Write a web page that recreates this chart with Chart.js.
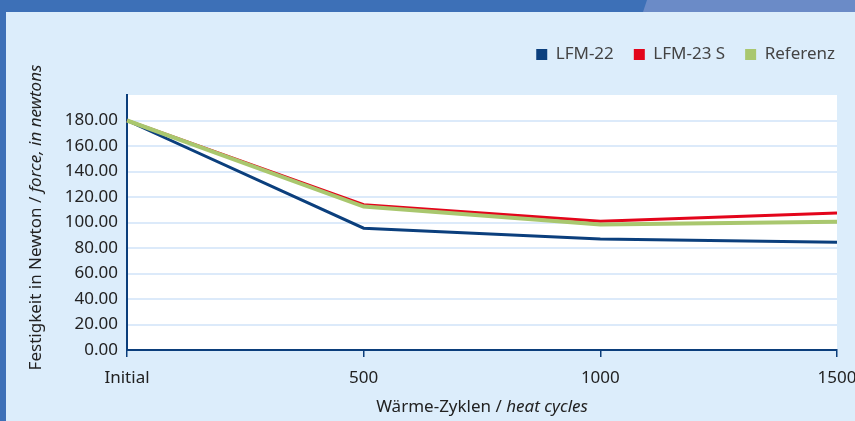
<!DOCTYPE html>
<html>
<head>
<meta charset="utf-8">
<script src="https://cdn.jsdelivr.net/npm/chart.js@4"></script>
<style>
html, body { margin: 0; padding: 0; }
body { width: 855px; height: 421px; background: #dcedfb; position: relative; overflow: hidden; }
#wrap { position: absolute; left: 0; top: 0; width: 855px; height: 421px; }
#topbar { position: absolute; left: 0; top: 0; width: 855px; height: 12px; background: #3d70b7; }
#topbar2 { position: absolute; left: 643px; top: 0; width: 212px; height: 12px; background: #6b8bc7;
  clip-path: polygon(4px 0, 100% 0, 100% 100%, 0 100%); }
#leftbar { position: absolute; left: 0; top: 0; width: 6px; height: 421px; background: #3d70b7; }
</style>
</head>
<body>
<div id="wrap"><canvas id="chart" width="855" height="421"></canvas></div>
<div id="topbar"></div>
<div id="topbar2"></div>
<div id="leftbar"></div>
<script>
// chart values
const cycles = ['Initial', '500', '1000', '1500'];
const lfm22 = [180, 95.5, 87, 84.5];
const lfm23s = [180, 114, 101, 107.5];
const referenz = [180, 112.5, 98.5, 100.5];
const seriesNames = ['LFM-22', 'LFM-23 S', 'Referenz'];

const FONT = '"Noto Sans", "Open Sans", sans-serif';
const navy = '#0b3e7b';

// white plot area + axis titles with italic parts
const extras = {
  id: 'extras',
  beforeLayout(chart) {
    const lg = chart.legend;
    if (lg && !lg._patched) {
      const fit = lg.fit;
      lg.fit = function() { fit.call(this); this.height += 22; };
      lg._patched = true;
    }
  },
  beforeDraw(chart) {
    const {ctx, chartArea: a} = chart;
    ctx.save();
    ctx.fillStyle = '#ffffff';
    ctx.fillRect(a.left, a.top, a.right - a.left, a.bottom - a.top);
    ctx.restore();
  },
  afterDraw(chart) {
    const {ctx, chartArea: a} = chart;
    function mixed(parts, cx, cy) {
      let total = 0;
      parts.forEach(p => { ctx.font = p[1] + ' 17px ' + FONT; total += ctx.measureText(p[0]).width; });
      let x = cx - total / 2;
      parts.forEach(p => {
        ctx.font = p[1] + ' 17px ' + FONT;
        ctx.fillText(p[0], x, cy);
        x += ctx.measureText(p[0]).width;
      });
    }
    ctx.save();
    ctx.fillStyle = '#222';
    ctx.textBaseline = 'middle';
    mixed([['Wärme-Zyklen / ', 'normal'], ['heat cycles', 'italic']], (a.left + a.right) / 2, 407);
    ctx.translate(36, (a.top + a.bottom) / 2 - 5);
    ctx.rotate(-Math.PI / 2);
    mixed([['Festigkeit in Newton / ', 'normal'], ['force, in newtons', 'italic']], 0, 0);
    ctx.restore();
  }
};

new Chart(document.getElementById('chart'), {
  type: 'line',
  data: {
    labels: cycles,
    datasets: [
      { label: seriesNames[0], data: lfm22, borderColor: '#0b3f7d', backgroundColor: '#0b3f7d', borderWidth: 3, order: 2 },
      { label: seriesNames[1], data: lfm23s, borderColor: '#e3051b', backgroundColor: '#e3051b', borderWidth: 3, order: 1 },
      { label: seriesNames[2], data: referenz, borderColor: '#a9c76e', backgroundColor: '#a9c76e', borderWidth: 4, order: 0 }
    ]
  },
  options: {
    responsive: false,
    animation: false,
    elements: { point: { radius: 0 }, line: { tension: 0 } },
    layout: { padding: { top: 26, left: 0, right: 0, bottom: 0 } },
    plugins: {
      legend: {
        position: 'top',
        align: 'end',
        labels: {
          boxWidth: 11, boxHeight: 11, padding: 20, color: '#444',
          font: { family: FONT, size: 17 },
          sort: (a, b) => a.datasetIndex - b.datasetIndex,
          generateLabels(chart) {
            const items = Chart.defaults.plugins.legend.labels.generateLabels(chart);
            items.forEach(it => { it.lineWidth = 0; });
            return items;
          }
        }
      },
      tooltip: { enabled: false }
    },
    scales: {
      x: {
        offset: false,
        border: { color: navy, width: 2 },
        grid: { drawOnChartArea: false, drawTicks: true, tickLength: 7, color: navy, lineWidth: 1.5 },
        ticks: { color: '#222', padding: 11, maxRotation: 0, font: { family: FONT, size: 17 } },
        afterFit(scale) { scale.height = 71; scale.paddingRight = 18; }
      },
      y: {
        min: 0, max: 200,
        border: { color: navy, width: 2 },
        grid: {
          drawTicks: false,
          lineWidth: 2,
          color: c => (c.tick.value === 200 || c.tick.value === 0) ? 'rgba(0,0,0,0)' : '#dceafa'
        },
        ticks: {
          stepSize: 20, padding: 9, color: '#222',
          font: { family: FONT, size: 17 },
          callback: v => v === 200 ? '' : v.toFixed(2)
        },
        afterFit(scale) { scale.width = 127; }
      }
    }
  },
  plugins: [extras]
});
</script>
</body>
</html>
